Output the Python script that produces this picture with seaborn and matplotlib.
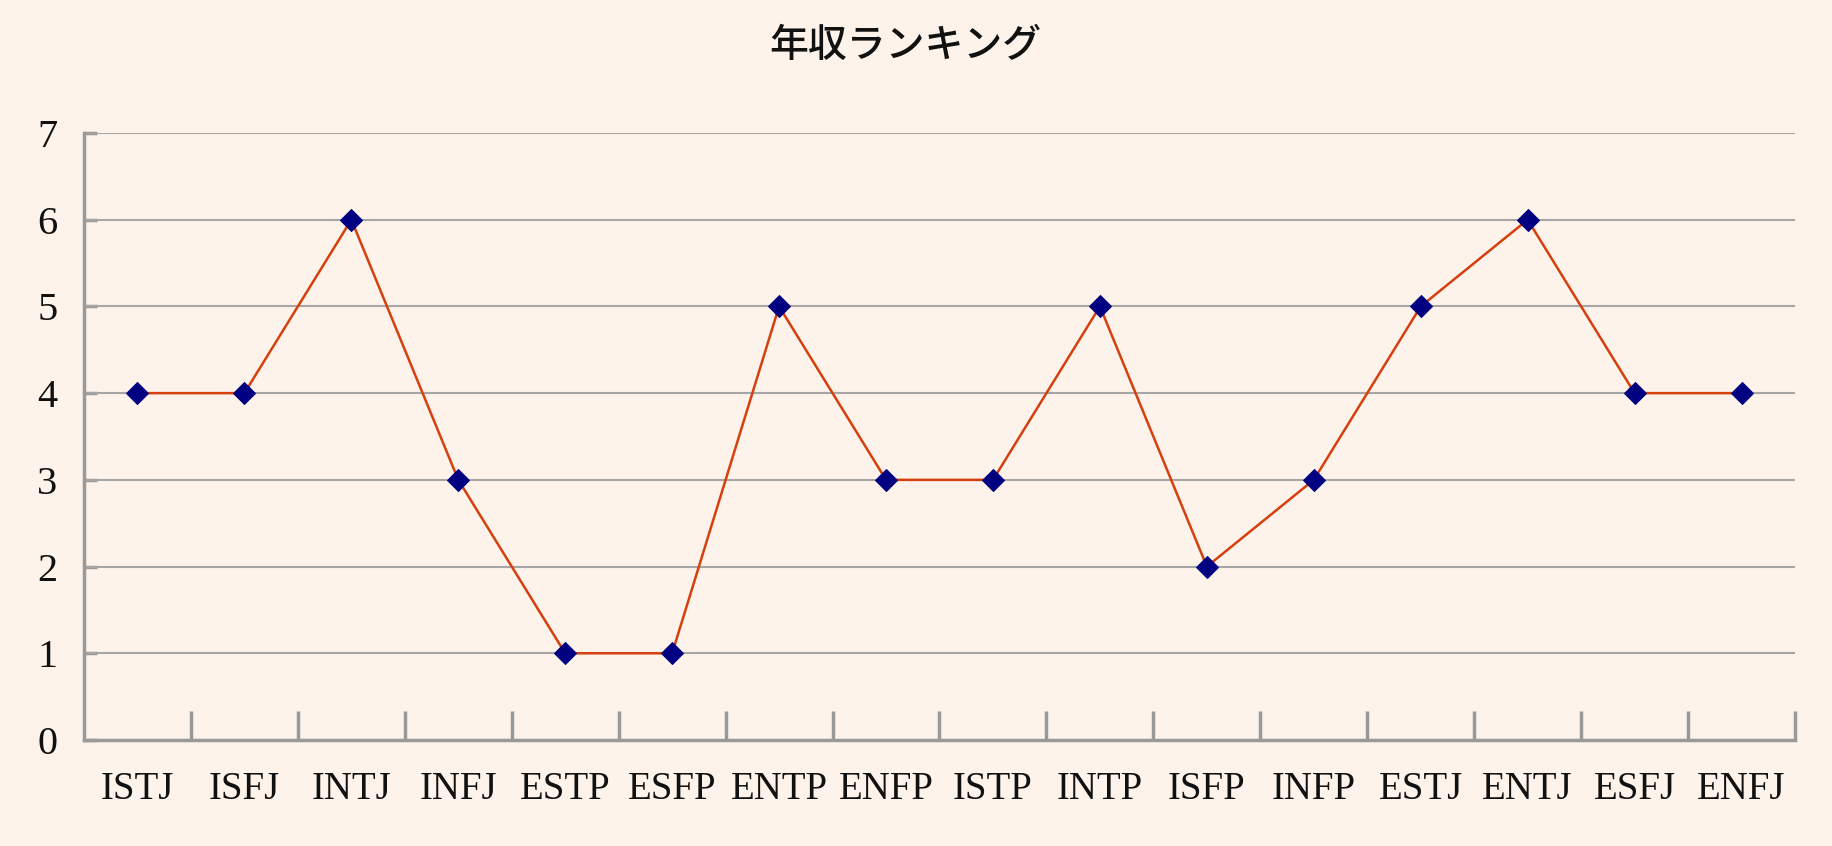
import matplotlib
matplotlib.use("Agg")
import matplotlib.pyplot as plt
import numpy as np
import seaborn as sns

# MBTI types and their income rank
types = ["ISTJ", "ISFJ", "INTJ", "INFJ", "ESTP", "ESFP", "ENTP", "ENFP",
         "ISTP", "INTP", "ISFP", "INFP", "ESTJ", "ENTJ", "ESFJ", "ENFJ"]
ranks = [4, 4, 6, 3, 1, 1, 5, 3, 3, 5, 2, 3, 5, 6, 4, 4]
y_ticks = [0, 1, 2, 3, 4, 5, 6, 7]
title = "年収ランキング"

BG = "#FEF3EA"
GRID = "#A6A6A6"
AXIS = "#999999"

sns.set_style("white")
plt.rcParams["font.family"] = ["Liberation Serif", "DejaVu Serif"]

fig = plt.figure(figsize=(18.33, 8.46), dpi=100, facecolor=BG)
ax = fig.add_axes([84 / 1833, 1 - 740 / 846, (1795 - 84) / 1833, (740 - 133) / 846])
ax.set_facecolor(BG)

sns.lineplot(x=types, y=ranks, sort=False, ax=ax, color="#D63F0E", linewidth=1.8,
             marker="D", markersize=11.5, markerfacecolor="#000080",
             markeredgecolor="#000080", zorder=3)

ax.set_xlim(-0.5, len(types) - 0.5)
ax.set_ylim(0, 7)
ax.set_yticks(y_ticks)
ax.set_yticklabels([str(v) for v in y_ticks], fontsize=29, color="#111111")
for v in y_ticks[1:]:
    ax.axhline(v, color=GRID, linewidth=1.5, zorder=1)

# category labels centred, tick marks on the boundaries between them
ax.set_xticks(np.arange(len(types)))
ax.set_xticklabels(types, fontsize=28, color="#111111")
ax.tick_params(axis="x", which="major", bottom=True, length=0, pad=22)
ax.set_xticks(np.arange(len(types)) + 0.5, minor=True)
ax.tick_params(axis="x", which="minor", bottom=True, direction="in", length=21,
               width=2.5, color=AXIS)
ax.tick_params(axis="y", left=True, direction="in", length=9, width=2.5,
               color=AXIS, pad=19)

for side in ["top", "right"]:
    ax.spines[side].set_visible(False)
for side in ["left", "bottom"]:
    ax.spines[side].set_color(AXIS)
    ax.spines[side].set_linewidth(2.5)
ax.set_xlabel("")
ax.set_ylabel("")

fig.text(0.494, 1 - 46 / 846, title, ha="center", va="center", fontsize=28,
         fontweight="medium", family=["Noto Sans CJK JP", "DejaVu Sans"],
         color="#111111")

fig.savefig("out.png", dpi=100, facecolor=BG)
